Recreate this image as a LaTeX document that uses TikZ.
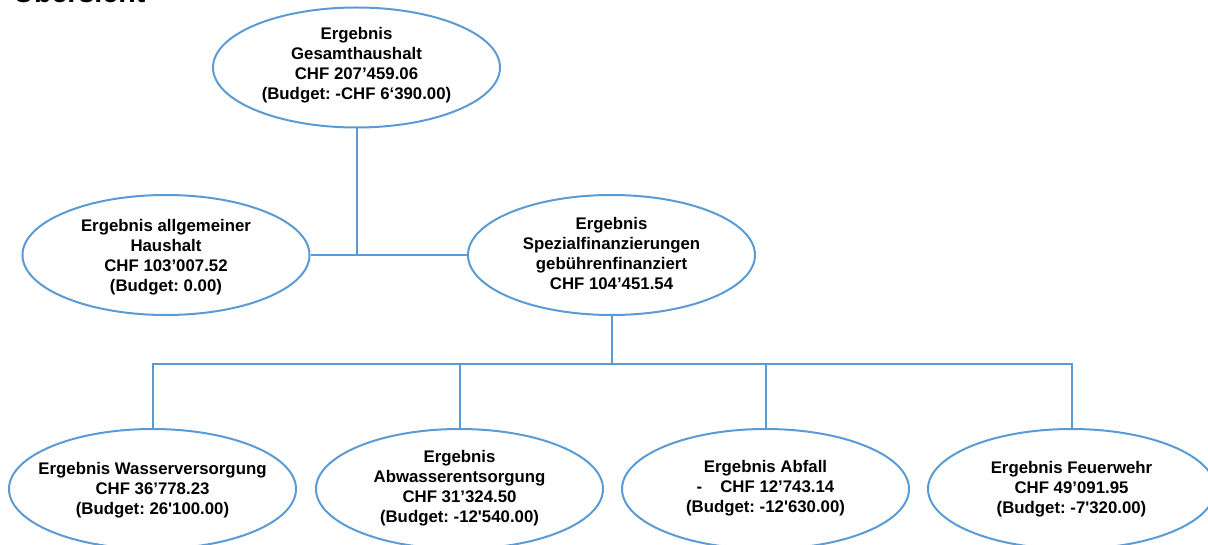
\documentclass[tikz,border=0pt]{standalone}
\usepackage{fontspec}
\setmainfont{Liberation Sans}[Ligatures=TeXOff]
\usetikzlibrary{shapes.geometric}
\definecolor{lineblue}{HTML}{5B9BD5}
\tikzset{
  ell/.style={draw=lineblue, line width=1pt, ellipse, minimum width=143.5pt, minimum height=60pt, inner sep=0pt},
  txt/.style={align=center, font=\fontsize{8.4pt}{10pt}\selectfont\bfseries\frenchspacing, inner sep=0pt},
  conn/.style={draw=lineblue, line width=1pt},
  title/.style={font=\fontsize{14.3pt}{16pt}\selectfont\bfseries, inner sep=0pt, anchor=base west}
}
\begin{document}
\begin{tikzpicture}[x=0.5pt, y=-0.5pt]
\useasboundingbox (0,0) rectangle (1208,545);
\node[title] (ttl) at (13,3) {Übersicht};

\node[ell] (top) at (356.5,67.5) {};
\node[txt] (toptxt) at (356.5,65.5) {Ergebnis\\Gesamthaushalt\\CHF 207’459.06\\(Budget: -CHF 6‘390.00)};

\node[ell] (left) at (166,255) {};
\node[txt] (lefttxt) at (166,257) {Ergebnis allgemeiner\\Haushalt\\CHF 103’007.52\\(Budget: 0.00)};

\node[ell] (mid) at (611.5,255) {};
\node[txt] (midtxt) at (611.5,253.5) {Ergebnis\\Spezialfinanzierungen\\gebührenfinanziert\\CHF 104’451.54};

\node[ell] (b1) at (152.5,489) {};
\node[txt] (b1txt) at (152.5,490.5) {Ergebnis Wasserversorgung\\CHF 36’778.23\\(Budget: 26'100.00)};

\node[ell] (b2) at (459.5,489) {};
\node[txt] (b2txt) at (459.5,488.5) {Ergebnis\\Abwasserentsorgung\\CHF 31’324.50\\(Budget: -12'540.00)};

\node[ell] (b3) at (765.5,489) {};
\node[txt] (b3txt) at (765.5,488.5) {Ergebnis Abfall\\-\hspace{9pt}CHF 12’743.14\\(Budget: -12'630.00)};

\node[ell] (b4) at (1071.5,489) {};
\node[txt] (b4txt) at (1071.5,489) {Ergebnis Feuerwehr\\CHF 49’091.95\\(Budget: -7'320.00)};

\coordinate (bus) at (0,364);
\coordinate (jn) at (top.south |- left.east);

\draw[conn] (left.east) -- (mid.west);
\draw[conn] (top.south) -- (jn);
\draw[conn] (mid.south) -- (mid.south |- bus);
\draw[conn] (b1.north) |- (b4.north |- bus) -- (b4.north);
\draw[conn] (b2.north) -- (b2.north |- bus);
\draw[conn] (b3.north) -- (b3.north |- bus);
\end{tikzpicture}
\end{document}
